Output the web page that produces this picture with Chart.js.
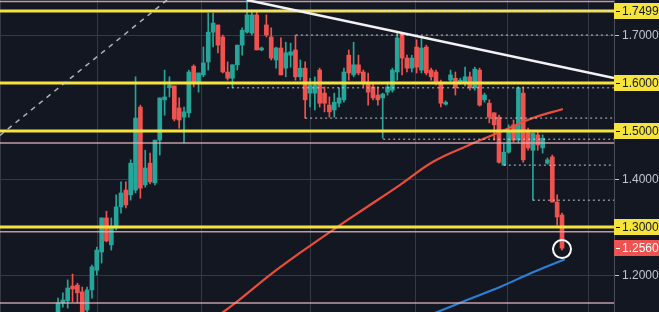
<!DOCTYPE html>
<html>
<head>
<meta charset="utf-8">
<script src="https://cdn.jsdelivr.net/npm/chart.js@4.4.0/dist/chart.umd.min.js"></script>
<style>
  html, body { margin: 0; padding: 0; background: #131722; overflow: hidden; }
  #wrap { width: 659px; height: 312px; }
</style>
</head>
<body>
<div id="wrap"><canvas id="priceChart"></canvas></div>
<script>
// candles (index = candle number)
const opens = [
  1.110,1.142,1.146,1.177,1.179,1.165,1.127,1.169,1.210,1.248,
  1.319,1.263,1.298,1.342,1.377,1.367,1.377,1.550,1.388,1.433,
  1.392,1.481,1.565,1.590,1.594,1.548,1.529,1.538,1.635,1.602,
  1.617,1.644,1.706,1.721,1.696,1.623,1.610,1.638,1.679,1.706,
  1.704,1.742,1.669,1.721,1.696,1.648,1.673,1.631,1.658,1.669,
  1.613,1.631,1.579,1.579,1.627,1.579,1.554,1.544,1.558,1.565,
  1.658,1.617,1.638,1.623,1.600,1.592,1.575,1.569,1.581,1.585,
  1.623,1.704,1.652,1.631,1.675,1.627,1.675,1.627,1.623,1.602,
  1.556,1.606,1.610,1.602,1.600,1.613,1.590,1.627,1.565,1.558,
  1.538,1.529,1.429,1.456,1.513,1.481,1.579,1.502,1.460,1.492,
  1.465,1.433,1.446,1.352,1.325
];
const highs = [
  1.152,1.163,1.190,1.202,1.183,1.175,1.175,1.221,1.258,1.319,
  1.333,1.319,1.367,1.394,1.394,1.440,1.613,1.554,1.460,1.454,
  1.481,1.569,1.627,1.613,1.594,1.569,1.550,1.627,1.638,1.621,
  1.675,1.746,1.746,1.721,1.700,1.644,1.638,1.679,1.715,1.775,
  1.752,1.748,1.675,1.742,1.715,1.675,1.694,1.685,1.683,1.700,
  1.648,1.644,1.610,1.613,1.631,1.592,1.571,1.579,1.590,1.631,
  1.669,1.685,1.658,1.627,1.621,1.600,1.592,1.579,1.602,1.631,
  1.704,1.704,1.658,1.658,1.690,1.694,1.679,1.631,1.627,1.606,
  1.563,1.627,1.623,1.610,1.633,1.623,1.633,1.631,1.579,1.565,
  1.538,1.533,1.475,1.513,1.523,1.592,1.592,1.506,1.496,1.498,
  1.492,1.444,1.450,1.367,1.329
];
const lows = [
  1.106,1.133,1.131,1.144,1.142,1.115,1.123,1.152,1.200,1.225,
  1.269,1.252,1.294,1.329,1.340,1.356,1.371,1.360,1.383,1.390,
  1.388,1.450,1.533,1.571,1.521,1.506,1.475,1.529,1.592,1.581,
  1.613,1.627,1.675,1.663,1.621,1.606,1.590,1.627,1.658,1.704,
  1.700,1.669,1.667,1.696,1.648,1.631,1.617,1.613,1.633,1.606,
  1.606,1.527,1.550,1.544,1.550,1.540,1.529,1.529,1.550,1.560,
  1.606,1.613,1.617,1.592,1.554,1.565,1.554,1.485,1.575,1.581,
  1.606,1.617,1.623,1.623,1.621,1.621,1.617,1.606,1.596,1.550,
  1.554,1.600,1.575,1.598,1.594,1.585,1.585,1.552,1.560,1.517,
  1.481,1.433,1.429,1.454,1.477,1.475,1.435,1.460,1.356,1.460,
  1.454,1.431,1.352,1.304,1.252
];
const closes = [
  1.142,1.148,1.173,1.171,1.163,1.119,1.169,1.217,1.252,1.319,
  1.271,1.298,1.342,1.371,1.346,1.433,1.527,1.381,1.423,1.394,
  1.481,1.569,1.571,1.596,1.525,1.523,1.540,1.623,1.602,1.621,
  1.642,1.706,1.725,1.679,1.623,1.610,1.638,1.679,1.710,1.742,
  1.742,1.669,1.673,1.700,1.652,1.673,1.617,1.663,1.665,1.613,
  1.631,1.565,1.596,1.596,1.558,1.558,1.540,1.560,1.569,1.623,
  1.621,1.638,1.621,1.600,1.581,1.569,1.565,1.577,1.592,1.627,
  1.694,1.652,1.631,1.652,1.633,1.673,1.621,1.613,1.602,1.558,
  1.560,1.617,1.590,1.606,1.613,1.590,1.629,1.554,1.575,1.529,
  1.513,1.435,1.456,1.498,1.481,1.590,1.440,1.465,1.496,1.471,
  1.485,1.440,1.352,1.321,1.256
];

// moving averages (candle index, price)
const redMaX = [32.4, 37.6, 43.7, 49.9, 57.6, 62.9, 70.6, 77.4, 84.4, 91.2, 98.0, 104.2];
const redMaY = [1.110, 1.150, 1.200, 1.246, 1.300, 1.336, 1.388, 1.436, 1.469, 1.498, 1.527, 1.546];
const blueMaX = [76.8, 84.4, 91.2, 98.0, 104.6];
const blueMaY = [1.117, 1.148, 1.175, 1.206, 1.233];

// drawn levels
const yellowLevels = [1.7499, 1.6, 1.5, 1.3];
const pinkLevels = [1.770, 1.475, 1.290, 1.142];
const dottedLevels = [1.751, 1.700, 1.590, 1.527, 1.483, 1.429, 1.356];
const dottedStart = [31.0, 49.1, 34.9, 51.0, 67.1, 92.0, 98.0];
const trendX = [39.0, 114.73];
const trendY = [1.773, 1.6105];
const diagX = [-11.97, 22.5];
const diagY = [1.491, 1.773];
const markerX = [104.0];
const markerY = [1.254];

// axes
const xMin = -11.97, xMax = 114.73;
const yMin = 1.123, yMax = 1.773;
const gridX = [-1.86, 18.1, 41.13, 63.0, 84.34, 101.05];
const gridY = [1.2, 1.3, 1.4, 1.5, 1.6, 1.7];
const plainLabels = [1.2, 1.4, 1.7];
const lastPrice = 1.256;

const UP = '#26a69a', DOWN = '#ef5350', YELLOW = '#f6e33c';
const candleColors = closes.map((c, i) => c >= opens[i] ? UP : DOWN);

function level(v, start, color, width, dash) {
  return {
    type: 'line',
    data: [{ x: start, y: v }, { x: xMax, y: v }],
    borderColor: color, borderWidth: width, borderDash: dash || [],
    pointRadius: 0, order: 2
  };
}

const datasets = [
  {
    type: 'bar', label: 'wicks',
    data: opens.map((o, i) => ({ x: i, y: [lows[i], highs[i]] })),
    backgroundColor: candleColors, barThickness: 1, grouped: false, order: 10
  },
  {
    type: 'bar', label: 'bodies',
    data: opens.map((o, i) => ({ x: i, y: [o, closes[i]] })),
    backgroundColor: candleColors, barThickness: 4, minBarLength: 1, grouped: false, order: 9
  },
  ...pinkLevels.map(v => level(v, xMin, 'rgba(226,178,186,0.85)', 1.5)),
  ...dottedLevels.map((v, i) => level(v, dottedStart[i], 'rgba(225,225,225,0.85)', 1, [2, 3])),
  {
    type: 'line', data: redMaX.map((x, i) => ({ x: x, y: redMaY[i] })),
    borderColor: '#ea4e3a', borderWidth: 2.2, pointRadius: 0, tension: 0.4, order: 3
  },
  {
    type: 'line', data: blueMaX.map((x, i) => ({ x: x, y: blueMaY[i] })),
    borderColor: '#2d7fd3', borderWidth: 2.2, pointRadius: 0, tension: 0.4, order: 3
  },
  ...yellowLevels.map(v => level(v, xMin, YELLOW, 3)),
  {
    type: 'line', data: diagX.map((x, i) => ({ x: x, y: diagY[i] })),
    borderColor: 'rgba(205,205,210,0.85)', borderWidth: 1.5, borderDash: [5, 5], pointRadius: 0, order: 1
  },
  {
    type: 'line', data: trendX.map((x, i) => ({ x: x, y: trendY[i] })),
    borderColor: '#f2f2f2', borderWidth: 2.5, pointRadius: 0, order: 1
  },
  {
    type: 'line', showLine: false, data: markerX.map((x, i) => ({ x: x, y: markerY[i] })),
    pointRadius: 9, pointBorderColor: '#ffffff', pointBorderWidth: 2,
    pointBackgroundColor: 'rgba(0,0,0,0)', order: 0
  }
];

const bgPlugin = {
  id: 'bg',
  beforeDraw(chart) {
    const c = chart.ctx;
    c.save();
    c.fillStyle = '#131722';
    c.fillRect(0, 0, chart.width, chart.height);
    c.restore();
  }
};

const labelPlugin = {
  id: 'priceLabels',
  afterDraw(chart) {
    const ys = chart.scales.y, ctx = chart.ctx, left = chart.chartArea.right;
    ctx.save();
    ctx.font = '12px "Liberation Sans", Arial, sans-serif';
    ctx.textBaseline = 'middle';
    plainLabels.forEach(v => {
      const py = Math.round(ys.getPixelForValue(v));
      ctx.fillStyle = '#c3c6ce';
      ctx.fillRect(left + 1, py, 4, 1);
      ctx.fillText(v.toFixed(4), left + 8, py + 1);
    });
    const boxes = yellowLevels.map(v => ({ v: v, bg: YELLOW, fg: '#131722' }));
    boxes.push({ v: lastPrice, bg: DOWN, fg: '#ffffff' });
    boxes.forEach(b => {
      const py = Math.round(ys.getPixelForValue(b.v));
      ctx.fillStyle = b.bg;
      ctx.fillRect(left, py - 8, chart.width - left, 16);
      ctx.fillStyle = b.fg;
      ctx.fillRect(left + 2, py, 4, 1);
      ctx.fillText(b.v.toFixed(4), left + 8, py + 1);
    });
    ctx.restore();
  }
};

new Chart(document.getElementById('priceChart'), {
  type: 'bar',
  data: { datasets: datasets },
  options: {
    responsive: true,
    maintainAspectRatio: false,
    animation: false,
    layout: { padding: 0, autoPadding: false },
    plugins: { legend: { display: false }, tooltip: { enabled: false } },
    scales: {
      x: {
        type: 'linear', min: xMin, max: xMax, offset: false,
        afterBuildTicks: s => { s.ticks = gridX.map(v => ({ value: v })); },
        ticks: { display: false },
        grid: { color: '#353945', drawTicks: false },
        border: { display: false }
      },
      y: {
        type: 'linear', position: 'right', min: yMin, max: yMax,
        afterBuildTicks: s => { s.ticks = gridY.map(v => ({ value: v })); },
        afterFit: s => { s.width = 45; },
        ticks: { display: false },
        grid: { color: '#353945', drawTicks: false },
        border: { display: true, color: '#4a4e59' }
      }
    }
  },
  plugins: [bgPlugin, labelPlugin]
});
</script>
</body>
</html>
